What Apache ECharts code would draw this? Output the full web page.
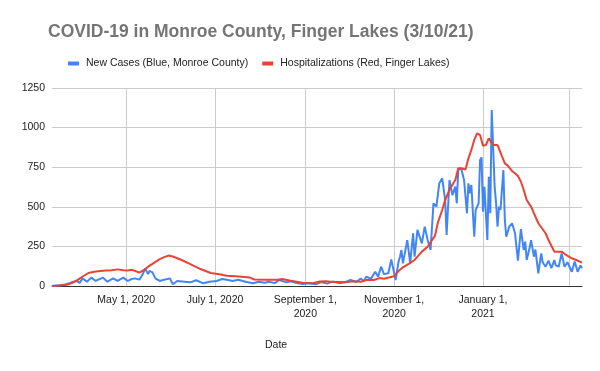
<!DOCTYPE html>
<html>
<head>
<meta charset="utf-8">
<script src="https://cdn.jsdelivr.net/npm/echarts@6/dist/echarts.min.js"></script>
<style>
html,body{margin:0;padding:0;background:#fff;}
#chart{width:600px;height:371px;}
</style>
</head>
<body>
<div id="chart"></div>
<script>
// New cases (Monroe County) — sampled readings
const caseDates = [
'2020-03-11','2020-03-16','2020-03-20','2020-03-23','2020-03-25','2020-03-28','2020-03-30',
'2020-04-01','2020-04-04','2020-04-07','2020-04-10','2020-04-13','2020-04-15','2020-04-18','2020-04-22','2020-04-25','2020-04-29',
'2020-05-02','2020-05-05','2020-05-07','2020-05-10','2020-05-12','2020-05-14','2020-05-16','2020-05-17','2020-05-19','2020-05-21','2020-05-24','2020-05-27','2020-05-31',
'2020-06-02','2020-06-05','2020-06-10','2020-06-14','2020-06-18','2020-06-23','2020-06-27',
'2020-07-02','2020-07-06','2020-07-10','2020-07-13','2020-07-17','2020-07-22','2020-07-27','2020-07-31',
'2020-08-04','2020-08-07','2020-08-11','2020-08-14','2020-08-19','2020-08-22','2020-08-25','2020-08-30',
'2020-09-04','2020-09-08','2020-09-12','2020-09-16','2020-09-20','2020-09-24','2020-09-28',
'2020-10-02','2020-10-06','2020-10-09','2020-10-11','2020-10-13','2020-10-16','2020-10-19','2020-10-21','2020-10-23','2020-10-25','2020-10-28','2020-10-30',
'2020-11-01','2020-11-02','2020-11-04','2020-11-05','2020-11-06','2020-11-07','2020-11-10','2020-11-12','2020-11-14','2020-11-15','2020-11-17','2020-11-20','2020-11-22','2020-11-24','2020-11-26','2020-11-28','2020-11-30',
'2020-12-02','2020-12-04','2020-12-06','2020-12-07','2020-12-09','2020-12-11','2020-12-13','2020-12-14','2020-12-15','2020-12-17','2020-12-19','2020-12-21','2020-12-22','2020-12-23','2020-12-24','2020-12-26','2020-12-27','2020-12-29','2020-12-30','2020-12-31',
'2021-01-01','2021-01-02','2021-01-04','2021-01-05','2021-01-06','2021-01-07','2021-01-09','2021-01-10','2021-01-11','2021-01-12','2021-01-13','2021-01-15','2021-01-16','2021-01-17','2021-01-19','2021-01-21','2021-01-23','2021-01-25','2021-01-27','2021-01-29','2021-01-30','2021-01-31',
'2021-02-02','2021-02-03','2021-02-05','2021-02-06','2021-02-08','2021-02-10','2021-02-11','2021-02-13','2021-02-15','2021-02-17','2021-02-19','2021-02-20','2021-02-22','2021-02-24','2021-02-26','2021-02-28',
'2021-03-01','2021-03-03','2021-03-05','2021-03-07','2021-03-09','2021-03-10'
];
const caseValues = [
0,5,10,17,25,32,20,
48,27,53,32,45,53,27,48,32,53,
32,45,48,40,69,110,75,95,86,48,32,40,48,
11,32,27,23,36,17,27,
32,44,38,32,40,27,17,27,
20,27,18,38,23,30,21,13,
17,11,25,15,28,18,22,
38,25,48,30,59,45,90,59,122,75,80,168,
80,38,154,185,227,143,290,143,333,185,354,269,375,290,227,522,501,
648,680,543,322,669,574,627,522,732,743,669,459,648,585,638,311,480,522,795,812,
469,627,290,690,459,1111,627,522,374,501,480,732,417,311,374,396,333,160,360,227,280,164,
240,290,185,230,80,206,150,122,160,112,164,130,122,206,122,150,
143,90,154,90,130,112
];

// Hospitalizations (Finger Lakes) — sampled readings
const hospDates = [
'2020-03-11','2020-03-16','2020-03-21','2020-03-25','2020-03-29',
'2020-04-01','2020-04-05','2020-04-09','2020-04-13','2020-04-17','2020-04-21','2020-04-25','2020-04-29',
'2020-05-02','2020-05-05','2020-05-10','2020-05-13','2020-05-16','2020-05-19','2020-05-24','2020-05-27','2020-05-30',
'2020-06-02','2020-06-05','2020-06-08','2020-06-14','2020-06-21','2020-06-28',
'2020-07-05','2020-07-09','2020-07-15','2020-07-25','2020-07-28',
'2020-08-05','2020-08-13','2020-08-16','2020-08-22','2020-08-30',
'2020-09-06','2020-09-11','2020-09-15','2020-09-20','2020-09-25','2020-09-30',
'2020-10-04','2020-10-09','2020-10-13','2020-10-18','2020-10-22','2020-10-25','2020-10-29',
'2020-11-01','2020-11-04','2020-11-07','2020-11-11','2020-11-15','2020-11-17','2020-11-20','2020-11-24','2020-11-27','2020-11-29',
'2020-12-01','2020-12-04','2020-12-06','2020-12-09','2020-12-12','2020-12-13','2020-12-15','2020-12-17','2020-12-20','2020-12-22','2020-12-24','2020-12-26','2020-12-28','2020-12-30',
'2021-01-01','2021-01-03','2021-01-05','2021-01-06','2021-01-08','2021-01-11','2021-01-14','2021-01-16','2021-01-18','2021-01-21','2021-01-23','2021-01-25','2021-01-27','2021-01-29','2021-01-31',
'2021-02-03','2021-02-08','2021-02-13','2021-02-15','2021-02-19','2021-02-24','2021-02-27',
'2021-03-03','2021-03-06','2021-03-10'
];
const hospValues = [
0,3,8,20,40,
60,82,90,95,98,100,105,100,
98,102,85,100,122,140,170,182,192,
186,175,164,138,107,82,
72,65,61,53,41,
40,40,44,33,20,
18,28,30,25,25,25,
30,27,38,38,50,46,55,
62,95,118,140,164,185,217,248,290,316,
400,480,543,606,655,669,743,743,735,806,859,922,964,953,
885,890,932,926,890,890,820,774,760,725,712,694,660,606,543,
501,396,333,290,217,217,196,
175,164,147
];

// X-axis gridline dates and tick labels
const gridDates = ['2020-05-01','2020-07-01','2020-09-01','2020-11-01','2021-01-01','2021-03-01'];
const labelDates = ['2020-05-01','2020-07-01','2020-09-01','2020-11-01','2021-01-01'];
const tickLabels = ['May 1, 2020','July 1, 2020','September 1,\n2020','November 1,\n2020','January 1,\n2021'];

const titleText = 'COVID-19 in Monroe County, Finger Lakes (3/10/21)';
const seriesNames = ['New Cases (Blue, Monroe County)','Hospitalizations (Red, Finger Lakes)'];

function ts(s){ const p = s.split('-').map(Number); return Date.UTC(p[0], p[1]-1, p[2]); }
const labelMap = {};
labelDates.forEach((d,i)=>{ labelMap[ts(d)] = tickLabels[i]; });

const FONT = '"Liberation Sans", Arial, sans-serif';
const chart = echarts.init(document.getElementById('chart'), null, {renderer:'canvas'});
chart.setOption({
  animation: false,
  backgroundColor: '#fff',
  title: {
    text: titleText,
    left: 48, top: 23, padding: 0,
    textStyle: {fontFamily: FONT, fontSize: 17.5, fontWeight: 'bold', color: '#757575'}
  },
  legend: {
    left: 68, top: 58, padding: 0,
    itemWidth: 11, itemHeight: 4, itemGap: 14,
    icon: 'rect',
    textStyle: {fontFamily: FONT, fontSize: 10.5, color: '#222', padding: [0,0,0,2]},
    data: seriesNames
  },
  grid: {left: 52, right: 18, top: 88, bottom: 85, containLabel: false},
  xAxis: {
    type: 'value',
    min: ts('2020-03-11'), max: ts('2021-03-10'),
    axisLine: {show: true, onZero: false, lineStyle: {color: '#333', width: 1}},
    axisTick: {show: false, customValues: gridDates.map(ts)},
    splitLine: {show: true, lineStyle: {color: '#ccc', width: 1}},
    axisLabel: {
      customValues: labelDates.map(ts),
      formatter: v => labelMap[v] || '',
      fontFamily: FONT, fontSize: 10.5, color: '#222', lineHeight: 14, margin: 7,
      hideOverlap: false
    }
  },
  yAxis: {
    type: 'value', min: 0, max: 1250, interval: 250,
    axisLine: {show: false}, axisTick: {show: false},
    splitLine: {lineStyle: {color: '#ccc', width: 1}},
    axisLabel: {fontFamily: FONT, fontSize: 10.5, color: '#222', margin: 7, formatter: v => String(v)}
  },
  graphic: [{
    type: 'text', left: 265, top: 340,
    style: {text: 'Date', fontFamily: FONT, fontSize: 10.5, fill: '#222'}
  }],
  series: [
    {
      name: seriesNames[0], type: 'line', showSymbol: false, symbol: 'none',
      color: '#4285F4', lineStyle: {width: 2, color: '#4285F4'},
      data: caseDates.map((d,i)=>[ts(d), caseValues[i]])
    },
    {
      name: seriesNames[1], type: 'line', showSymbol: false, symbol: 'none',
      color: '#EA4335', lineStyle: {width: 2, color: '#EA4335'},
      data: hospDates.map((d,i)=>[ts(d), hospValues[i]])
    }
  ]
});
</script>
</body>
</html>
